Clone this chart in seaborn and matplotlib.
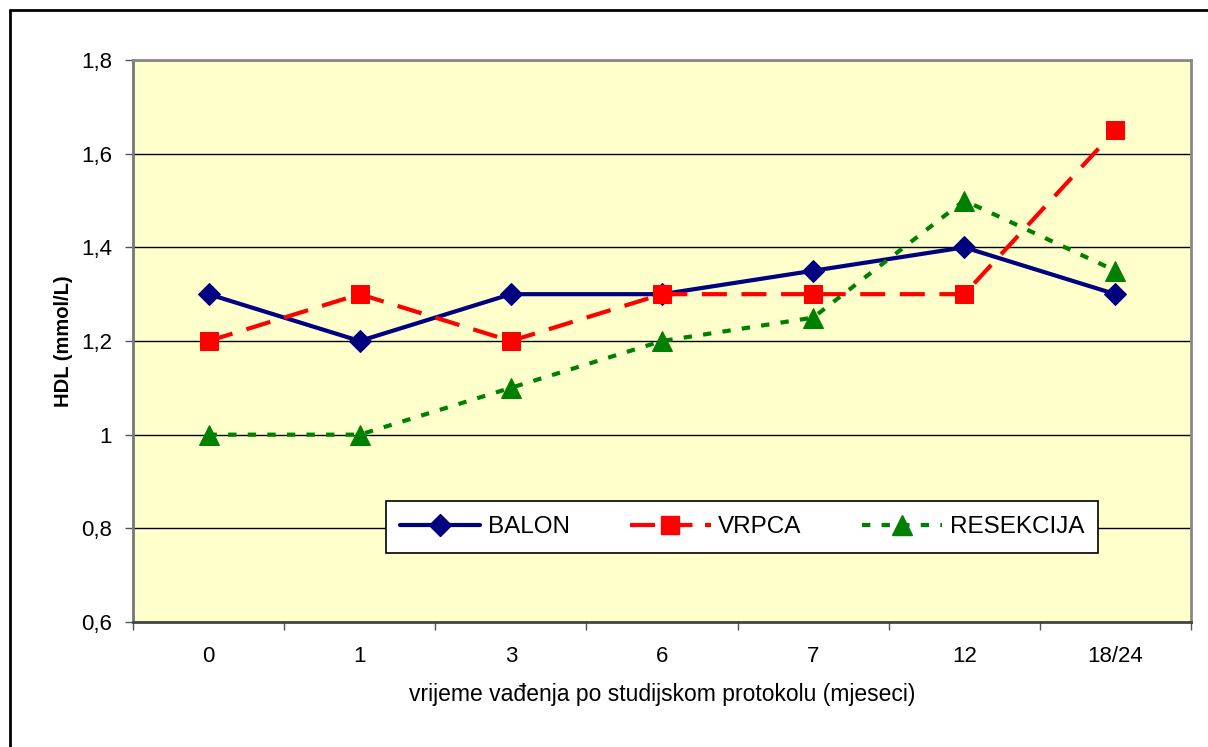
"""
HDL kroz vrijeme po studijskom protokolu - tri skupine.
"""

import pandas as pd
import seaborn as sns
import matplotlib.pyplot as plt
from matplotlib.lines import Line2D

# Podaci
kategorije = ['0', '1', '3', '6', '7', '12', '18/24']
balon = [1.3, 1.2, 1.3, 1.3, 1.35, 1.4, 1.3]
vrpca = [1.2, 1.3, 1.2, 1.3, 1.3, 1.3, 1.65]
resekcija = [1.0, 1.0, 1.1, 1.2, 1.25, 1.5, 1.35]
y_ticks = [0.6, 0.8, 1.0, 1.2, 1.4, 1.6, 1.8]
y_labels = ['0,6', '0,8', '1', '1,2', '1,4', '1,6', '1,8']

sns.set_theme(style="white")
plt.rcParams['font.family'] = ['Liberation Sans', 'DejaVu Sans']

fig = plt.figure(figsize=(12.08, 7.47), dpi=100)
ax = fig.add_axes([133 / 1208, 1 - 622 / 747, 1058 / 1208, 562 / 747])
ax.set_facecolor('#FFFFCC')

x = list(range(len(kategorije)))
df = pd.DataFrame({'x': x, 'BALON': balon, 'VRPCA': vrpca, 'RESEKCIJA': resekcija})

sns.lineplot(data=df, x='x', y='BALON', ax=ax, color='#000080', linewidth=3,
             marker='D', markersize=11, markeredgecolor='#000080', zorder=3)
sns.lineplot(data=df, x='x', y='VRPCA', ax=ax, color='#FF0000', linewidth=3,
             marker='s', markersize=13, markeredgecolor='#FF0000', zorder=4)
sns.lineplot(data=df, x='x', y='RESEKCIJA', ax=ax, color='#008000', linewidth=3,
             marker='^', markersize=14, markeredgecolor='#008000', zorder=5)
ax.lines[1].set_dashes((6, 3.5))
ax.lines[2].set_dashes((2, 2.7))

ax.set_xlim(-0.5, len(kategorije) - 0.5)
ax.set_ylim(0.6, 1.8)
ax.set_yticks(y_ticks)
ax.set_yticklabels(y_labels)
ax.set_xticks(x)
ax.set_xticklabels(kategorije)
ax.set_xticks([i + 0.5 for i in range(-1, len(kategorije))], minor=True)
ax.tick_params(axis='x', which='major', length=0, pad=17, labelsize=16, colors='black')
ax.tick_params(axis='x', which='minor', length=6, width=1, color='#555555', direction='out', bottom=True)
ax.tick_params(axis='y', length=6, width=1, color='#555555', direction='out',
               labelsize=16, pad=9, left=True, labelcolor='black')

ax.grid(axis='y', color='black', linewidth=1)
ax.set_axisbelow(True)
for s in ['top', 'right']:
    ax.spines[s].set_color('#888888')
    ax.spines[s].set_linewidth(2)
ax.spines['left'].set_color('#777777')
ax.spines['left'].set_linewidth(2)
ax.spines['bottom'].set_color('#444444')
ax.spines['bottom'].set_linewidth(2)

ax.set_xlabel('vrijeme vađenja po studijskom protokolu (mjeseci)', fontsize=16.5,
              labelpad=12, color='black')
ax.set_ylabel('HDL (mmol/L)', fontsize=14.5, fontweight='bold', labelpad=6, color='black')

handles = [
    Line2D([], [], color='#000080', linewidth=3, marker='D', markersize=11),
    Line2D([], [], color='#FF0000', linewidth=3, marker='s', markersize=13, dashes=(6, 3)),
    Line2D([], [], color='#008000', linewidth=3, marker='^', markersize=14, dashes=(2, 2.7)),
]
leg = ax.legend(handles, ['BALON', 'VRPCA', 'RESEKCIJA'], ncol=3, loc='center',
                bbox_to_anchor=((742 - 133) / 1058, (622 - 527) / 562),
                fontsize=17.5, frameon=True, fancybox=False, handlelength=3.3,
                columnspacing=2.5, borderpad=0.6, handletextpad=0.3,
                borderaxespad=0)
leg.get_frame().set_edgecolor('black')
leg.get_frame().set_linewidth(1.2)
leg.get_frame().set_facecolor('white')
leg.get_frame().set_alpha(1)
for t in leg.get_texts():
    t.set_color('black')

# okvir slike (lijevo i gore)
fig.add_artist(Line2D([9.5 / 1208, 9.5 / 1208], [0, 1 - 10 / 747], color='black', linewidth=2))
fig.add_artist(Line2D([9.5 / 1208, 1], [1 - 10 / 747, 1 - 10 / 747], color='black', linewidth=2))

fig.savefig('out.png', dpi=100)
plt.close(fig)
